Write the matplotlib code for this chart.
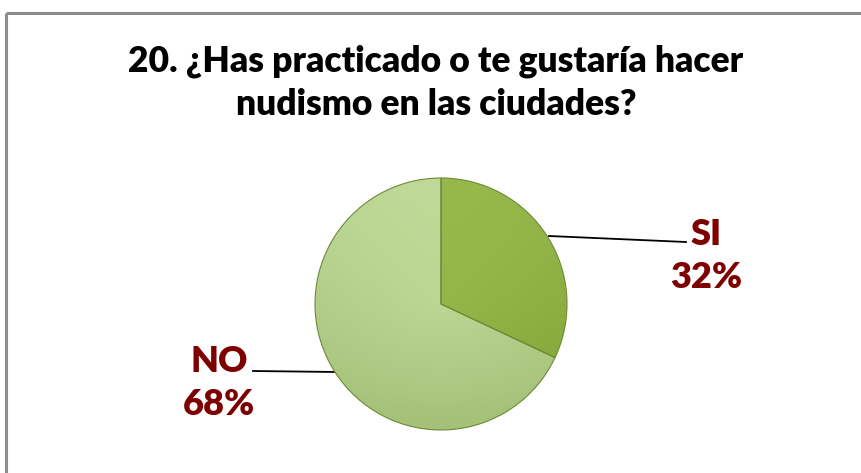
import matplotlib
matplotlib.use("Agg")
import matplotlib.pyplot as plt
import numpy as np
from matplotlib.colors import LinearSegmentedColormap

categories = ["SI", "NO"]
values = [32, 68]
title = "20. ¿Has practicado o te gustaría hacer\nnudismo en las ciudades?"

W, H = 862, 473
fig = plt.figure(figsize=(W / 100, H / 100), dpi=100)
fig.patch.set_facecolor("white")

# overlay axes in pixel coords
ov = fig.add_axes([0, 0, 1, 1])
ov.set_xlim(0, W)
ov.set_ylim(H, 0)
ov.axis("off")
ov.plot([6, 6], [13, H + 5], color="#8c8c8c", lw=2.2, solid_capstyle="butt")
ov.plot([6, W + 5], [13, 13], color="#8c8c8c", lw=2.2, solid_capstyle="butt")

FONT = "Lato"
ov.text(436, 83, title, ha="center", va="center", fontsize=25.5,
        fontweight="heavy", family=FONT, color="black", linespacing=1.38)

cx, cy, R = 441, 304, 126
ax = fig.add_axes([(cx - R) / W, (H - cy - R) / H, 2 * R / W, 2 * R / H])
wedges, _ = ax.pie(values, startangle=90, counterclock=False,
                   colors=["#8db041", "#b6d08c"],
                   wedgeprops=dict(linewidth=0.8, edgecolor="#6f8a35"))
ax.set_xlim(-1, 1)
ax.set_ylim(-1, 1)
ax.set_aspect("equal")

# gradient fills clipped to wedges
cmaps = [
    LinearSegmentedColormap.from_list("si", ["#7e9f35", "#8bad40", "#96b84c"]),
    LinearSegmentedColormap.from_list("no", ["#9fbd72", "#b0cb86", "#bfd998"]),
]
yy, xx = np.mgrid[-1:1:200j, -1:1:200j]
for w, cm in zip(wedges, cmaps):
    grad = (yy + 1) / 2 * 0.8 + (1 - np.hypot(xx, yy)) * 0.3
    im = ax.imshow(grad, extent=[-1, 1, -1, 1], origin="lower", cmap=cm,
                   zorder=w.get_zorder() + 0.1, interpolation="bilinear")
    im.set_clip_path(w)
    w.set_zorder(w.get_zorder() + 0.2)
    w.set_facecolor("none")
ax.set_xlim(-1, 1)
ax.set_ylim(-1, 1)

# labels with leader lines
red = "#7f0000"
lab = [(f"{categories[0]}\n{values[0]}%", 706, 256, 549, 236, 686, 242),
       (f"{categories[1]}\n{values[1]}%", 219, 383, 337, 372, 253, 371)]
for text, tx, ty, x0, y0, x1, y1 in lab:
    ov.plot([x0, x1], [y0, y1], color="black", lw=1.3)
    ov.text(tx, ty, text, ha="center", va="center", fontsize=26,
            fontweight="heavy", family=FONT, color=red, linespacing=1.4)

fig.savefig("out.png", dpi=100)
